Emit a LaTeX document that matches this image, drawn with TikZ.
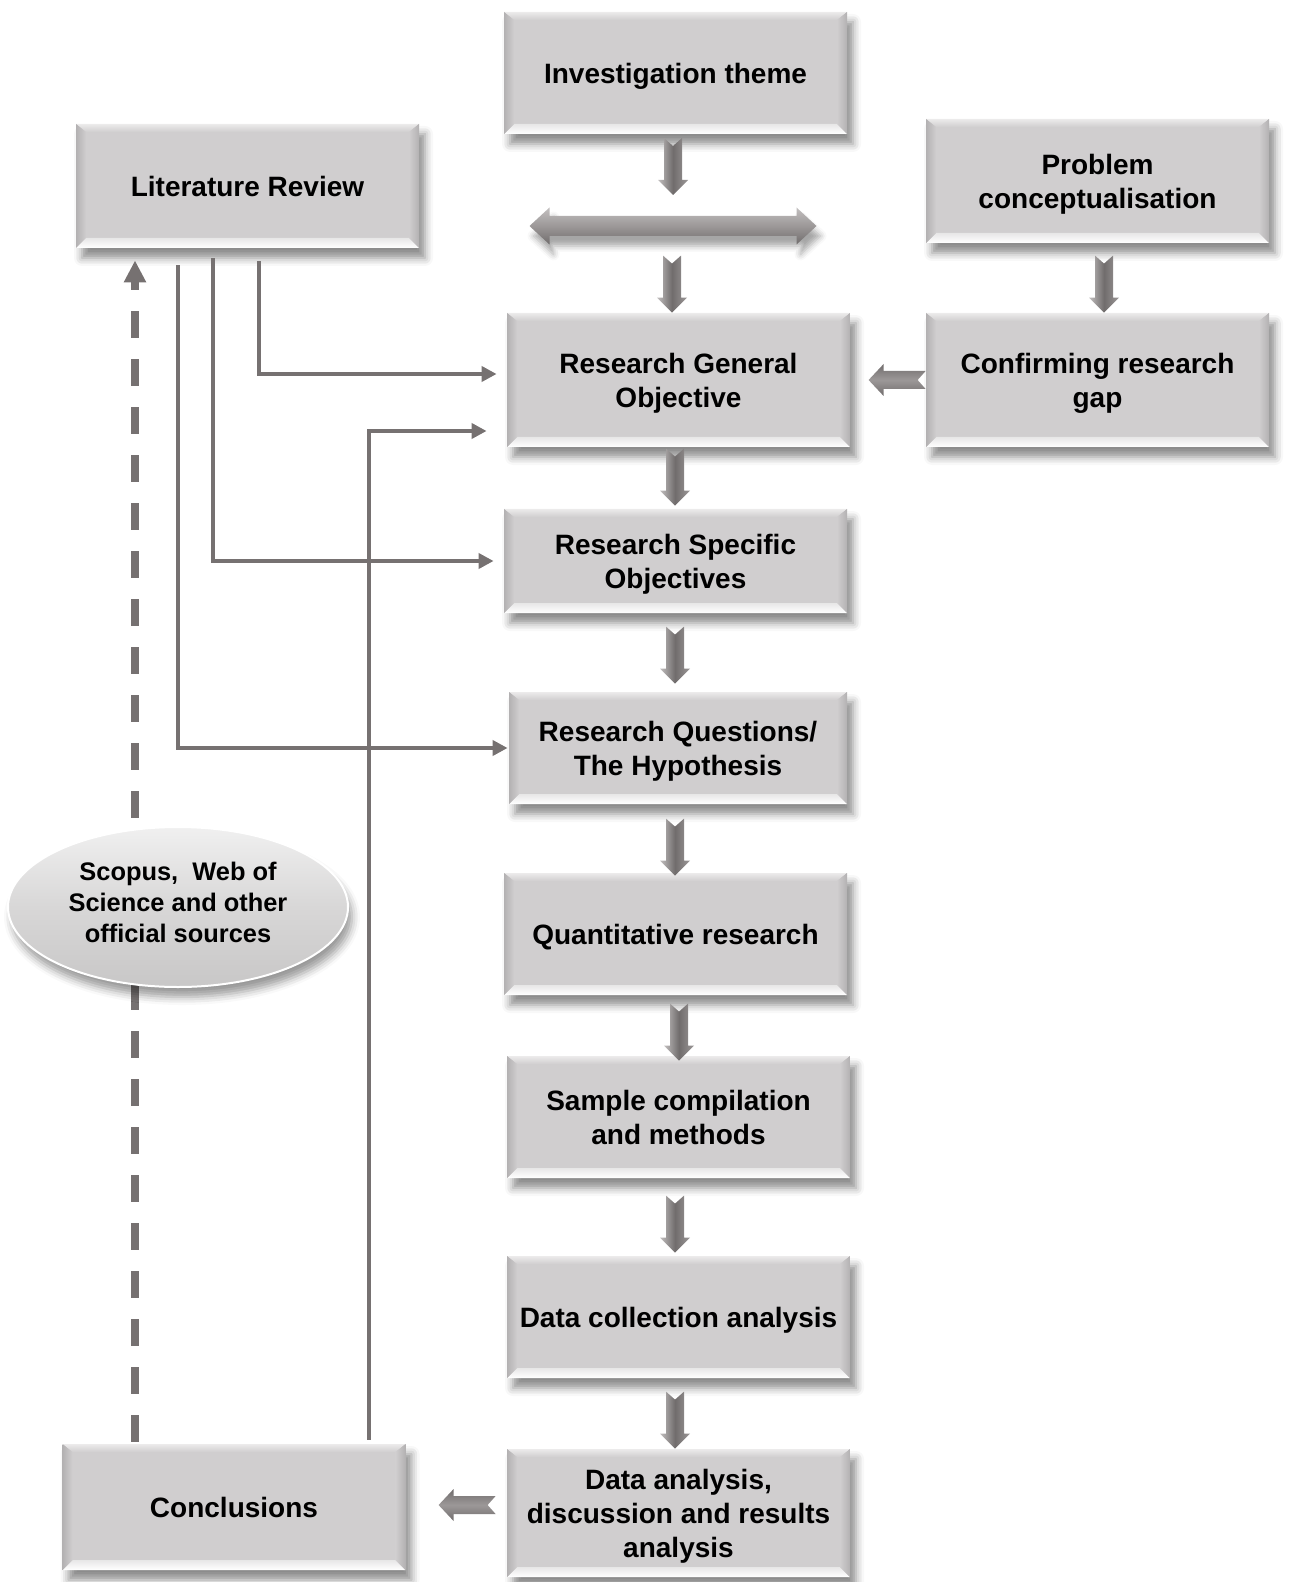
\documentclass[tikz,border=0pt]{standalone}
\usepackage{fontspec}
\setmainfont{Liberation Sans}
\usetikzlibrary{calc,arrows.meta,shapes.geometric,shadows.blur}

\definecolor{boxface}{HTML}{D0CECF}
\definecolor{bevtopc}{HTML}{ECEBEB}
\definecolor{bevlowc}{HTML}{F7F7F7}
\definecolor{bevside}{HTML}{B3B1B2}
\definecolor{linkgray}{HTML}{767171}
\definecolor{arrlight}{HTML}{C2BFBF}
\definecolor{arrmid}{HTML}{9C9898}
\definecolor{arrdark}{HTML}{706C6C}
\definecolor{bubtop}{HTML}{F0F0F0}
\definecolor{bubmid}{HTML}{D8D7D7}
\definecolor{bublow}{HTML}{C8C7C7}

% bevelled faces drawn inside every step box
\newcommand\bevelfaces{%
  \coordinate (o1) at (path picture bounding box.north west);
  \coordinate (o2) at (path picture bounding box.north east);
  \coordinate (o3) at (path picture bounding box.south east);
  \coordinate (o4) at (path picture bounding box.south west);
  \coordinate (i1) at ($(o1)+(5pt,-4pt)$);
  \coordinate (i2) at ($(o2)+(-5pt,-4pt)$);
  \coordinate (i3) at ($(o3)+(-5pt,5pt)$);
  \coordinate (i4) at ($(o4)+(5pt,5pt)$);
  \shade[top color=bevtopc, bottom color=boxface] (o1) -- (o2) -- (i2) -- (i1) -- cycle;
  \shade[top color=boxface!40!bevlowc, bottom color=white] (o4) -- (o3) -- (i3) -- (i4) -- cycle;
  \shade[left color=bevside, right color=boxface] (o1) -- (i1) -- (i4) -- (o4) -- cycle;
  \shade[left color=boxface, right color=bevside] (o2) -- (i2) -- (i3) -- (o3) -- cycle;
}

\tikzset{
  stepbox/.style={rectangle, fill=boxface, minimum width=171.5pt, minimum height=#1,
    inner sep=0pt, align=center, text=black, text depth=0pt,
    font=\bfseries\fontsize{14}{17}\selectfont,
    blur shadow={shadow xshift=3pt, shadow yshift=-5pt, shadow blur radius=4pt, shadow opacity=45},
    path picture={\bevelfaces}},
  stepbox/.default=61pt,
  sourcebubble/.style={ellipse, minimum width=170pt, minimum height=80pt, inner sep=0pt,
    align=center, text=black, text depth=5pt, font=\bfseries\fontsize{12.7}{15.5}\selectfont,
    top color=bubtop, bottom color=bublow, middle color=bubmid,
    draw=white, line width=1pt,
    blur shadow={shadow xshift=2pt, shadow yshift=-5pt, shadow blur radius=4pt, shadow opacity=40}},
  link/.style={draw=linkgray, line width=2pt, -{Triangle[length=7.5pt,width=7.5pt]}},
  dashlink/.style={draw=linkgray, line width=3.8pt, dash pattern=on 13.5pt off 10.5pt,
    -{Triangle[length=11pt,width=10.5pt]}},
  % block arrow pointing down, origin at its tip
  downblock/.pic={
    \shade[left color=arrlight, right color=arrmid, middle color=arrdark]
      (-9,-57) -- (0,-49) -- (9,-57) -- (9,-15) -- (15,-15) -- (0,0)
      -- (-15,-15) -- (-9,-15) -- cycle;
  },
  % block arrow pointing left, origin at its notched tail
  leftblock/.pic={
    \shade[top color=arrdark, bottom color=arrdark, middle color=arrmid]
      (0,-9) -- (-8,0) -- (0,9) -- (-42,9) -- (-42,16) -- (-57,0)
      -- (-42,-16) -- (-42,-9) -- cycle;
  },
  % two-headed block arrow, origin at its centre
  doubleblock/.pic={
    \shade[top color=arrlight, bottom color=arrdark, middle color=arrmid,
      blur shadow={shadow xshift=2pt, shadow yshift=-5pt, shadow blur radius=3pt, shadow opacity=35}]
      (-143.5,0) -- (-123.5,-18.5) -- (-123.5,-10) -- (123.5,-10) -- (123.5,-18.5)
      -- (143.5,0) -- (123.5,18.5) -- (123.5,10) -- (-123.5,10) -- (-123.5,18.5) -- cycle;
  },
}

\begin{document}
\begin{tikzpicture}[x=0.5pt,y=-0.5pt]
\useasboundingbox (0,0) rectangle (1293,1582);

% step boxes
\node[stepbox=61pt] (theme)  at (675.5,73)   {Investigation theme};
\node[stepbox=62pt] (lit)    at (247.5,186)  {Literature Review};
\node[stepbox=62pt] (prob)   at (1097.5,181) {Problem\\conceptualisation};
\node[stepbox=67pt] (rgo)    at (678.5,380)  {Research General\\Objective};
\node[stepbox=67pt] (gap)    at (1097.5,380) {Confirming research\\gap};
\node[stepbox=52pt] (rso)    at (675.5,561)  {Research Specific\\Objectives};
\node[stepbox=56pt, minimum width=169pt] (rq) at (678,748) {Research Questions/\\The Hypothesis};
\node[stepbox=61pt] (quant)  at (675.5,934)  {Quantitative research};
\node[stepbox=61pt] (sample) at (678.5,1117) {Sample compilation\\and methods};
\node[stepbox=61pt] (dca)    at (678.5,1317) {Data collection analysis};
\node[stepbox=64pt] (dar)    at (678.5,1513) {Data analysis,\\discussion and results\\analysis};
\node[stepbox=63pt] (concl)  at (234,1507)   {Conclusions};

% block arrows along the main flow
\coordinate (dbl) at (673,226);
\coordinate (ax) at (672,0);
\coordinate (bx) at (675,0);
\coordinate (ex) at (679,0);
\coordinate (cx) at (1104,0);
\pic at (dbl) {doubleblock};
\pic at ($(dbl)+(0,-31)$) {downblock};
\pic at (rgo.north -| ax) {downblock};
\pic at (gap.north -| cx) {downblock};
\pic at ([yshift=1.5pt]rso.north -| bx) {downblock};
\pic at ([yshift=4pt]rq.north -| bx) {downblock};
\pic at ([yshift=-1.5pt]quant.north -| bx) {downblock};
\pic at ([yshift=-2.5pt]sample.north -| ex) {downblock};
\pic at ([yshift=1.5pt]dca.north -| bx) {downblock};
\pic at (dar.north -| bx) {downblock};
\pic at (gap.west) {leftblock};
\pic at ([xshift=-5.5pt,yshift=4pt]dar.west) {leftblock};

% literature links
\coordinate (xd) at (135,0);
\coordinate (x1) at (178,0);
\coordinate (x2) at (213,0);
\coordinate (x3) at (259,0);
\coordinate (x4) at (369,0);
\draw[dashlink, shorten <=1pt, shorten >=6pt] (concl.north -| xd) -- (lit.south -| xd);
\draw[link, shorten <=8.5pt, shorten >=0.5pt] (lit.south -| x1) |- (rq.west);
\draw[link, shorten <=5pt, shorten >=5pt] (lit.south -| x2) |- (rso.west);
\draw[link, shorten <=6.5pt, shorten >=5pt] (lit.south -| x3) |- ([yshift=3pt]rgo.west);
\draw[link, shorten <=2pt, shorten >=10pt] (concl.north -| x4) |- ([yshift=-25.5pt]rgo.west);

% sources bubble over the dashed feedback line
\node[sourcebubble] (src) at (178,907) {Scopus,\ \ Web of\\Science and other\\official sources};
\end{tikzpicture}
\end{document}
